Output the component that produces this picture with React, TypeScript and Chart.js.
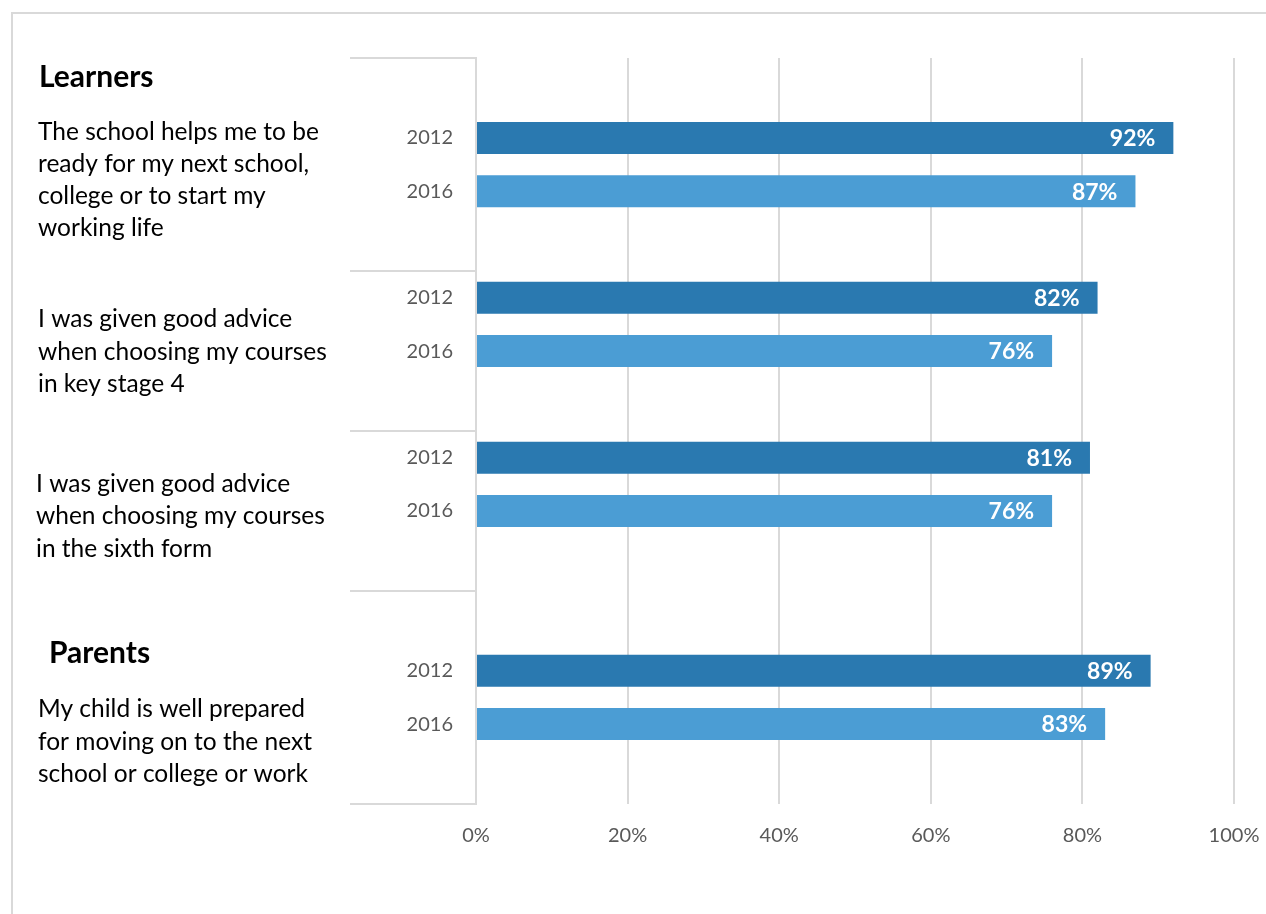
import React, { useEffect, useRef } from "react";
import { Chart, registerables } from "chart.js";

Chart.register(...registerables);

// ---- data ----
const rowLabels = ["", "2012", "2016", "", "2012", "2016", "", "2012", "2016", "", "", "2012", "2016", ""];
const rowQuestion = [-1, 0, 0, -1, 1, 1, -1, 2, 2, -1, -1, 3, 3, -1];
const values2012 = [92, 82, 81, 89];
const values2016 = [87, 76, 76, 83];
const xTickValues = [0, 20, 40, 60, 80, 100];
const groupBoundaries = [0, 4, 7, 10, 14];
const sectionHeadings = ["Learners", "Parents"];
const questionTexts = [
  ["The school helps me to be", "ready for my next school,", "college or to start my", "working life"],
  ["I was given good advice", "when choosing my courses", "in key stage 4"],
  ["I was given good advice", "when choosing my courses", "in the sixth form"],
  ["My child is well prepared", "for moving on to the next", "school or college or work"],
];

// ---- styling / layout ----
const FONT = "Lato";
const COLOR_2012 = "#2a79b0";
const COLOR_2016 = "#4b9dd4";
const GRID = "#d9d9d9";
const headingLayout = [
  { x: 39, y: 87 },
  { x: 49, y: 663 },
];
const blockLayout = [
  { x: 38, y: 139.5, lh: 32.3 },
  { x: 38, y: 327, lh: 32.5 },
  { x: 36, y: 491.5, lh: 32.5 },
  { x: 38, y: 717, lh: 32.5 },
];

const data2012 = rowLabels.map((l, i) => (l === "2012" ? values2012[rowQuestion[i]] : null));
const data2016 = rowLabels.map((l, i) => (l === "2016" ? values2016[rowQuestion[i]] : null));

const decorPlugin = {
  id: "decor",
  beforeDraw(chart: any) {
    const ctx = chart.ctx;
    ctx.save();
    ctx.fillStyle = "#ffffff";
    ctx.fillRect(0, 0, chart.width, chart.height);
    ctx.strokeStyle = GRID;
    ctx.lineWidth = 2;
    ctx.beginPath();
    ctx.moveTo(12, 13);
    ctx.lineTo(chart.width, 13);
    ctx.moveTo(12, 12);
    ctx.lineTo(12, chart.height);
    ctx.stroke();
    ctx.restore();
  },
  afterDatasetsDraw(chart: any) {
    const ctx = chart.ctx;
    ctx.save();
    ctx.fillStyle = "#ffffff";
    ctx.font = `bold 23px ${FONT}`;
    ctx.textAlign = "right";
    ctx.textBaseline = "middle";
    chart.data.datasets.forEach((ds: any, di: number) => {
      const meta = chart.getDatasetMeta(di);
      meta.data.forEach((el: any, i: number) => {
        const v = ds.data[i];
        if (v === null || v === undefined) return;
        ctx.fillText(`${v}%`, el.x - 18, el.y + 1);
      });
    });
    ctx.restore();
  },
  afterDraw(chart: any) {
    const ctx = chart.ctx;
    const yScale = chart.scales.y;
    const left = chart.chartArea.left;
    ctx.save();
    ctx.strokeStyle = GRID;
    ctx.lineWidth = 2;
    groupBoundaries.forEach((b) => {
      const y = Math.round(yScale.getPixelForValue(b - 0.5));
      ctx.beginPath();
      ctx.moveTo(left - 126, y);
      ctx.lineTo(left, y);
      ctx.stroke();
    });
    ctx.fillStyle = "#000000";
    ctx.textAlign = "left";
    ctx.textBaseline = "alphabetic";
    ctx.font = `bold 30px ${FONT}`;
    sectionHeadings.forEach((h, i) => {
      ctx.fillText(h, headingLayout[i].x, headingLayout[i].y);
    });
    ctx.font = `24.5px ${FONT}`;
    questionTexts.forEach((lines, qi) => {
      const L = blockLayout[qi];
      lines.forEach((line, li) => {
        ctx.fillText(line, L.x, L.y + li * L.lh);
      });
    });
    ctx.restore();
  },
};

export default function App() {
  const ref = useRef<HTMLCanvasElement | null>(null);
  useEffect(() => {
    if (!ref.current) return;
    const chart = new Chart(ref.current, {
      type: "bar",
      data: {
        labels: rowLabels,
        datasets: [
          {
            label: "2012",
            data: data2012,
            backgroundColor: COLOR_2012,
            barPercentage: 0.6,
            categoryPercentage: 1,
          },
          {
            label: "2016",
            data: data2016,
            backgroundColor: COLOR_2016,
            barPercentage: 0.6,
            categoryPercentage: 1,
          },
        ],
      },
      options: {
        indexAxis: "y",
        animation: false,
        responsive: false,
        devicePixelRatio: 1,
        layout: { padding: { left: 350, right: 32, top: 58, bottom: 50 } },
        plugins: { legend: { display: false }, tooltip: { enabled: false } },
        scales: {
          x: {
            type: "linear",
            min: 0,
            max: 100,
            stacked: true,
            afterBuildTicks: (s: any) => {
              s.ticks = xTickValues.map((v) => ({ value: v }));
            },
            afterFit: (s: any) => {
              s.height = 60;
              s.paddingLeft = 0;
              s.paddingRight = 0;
            },
            ticks: {
              callback: (v: any) => `${v}%`,
              color: "#595959",
              font: { family: FONT, size: 20 },
              padding: 20,
            },
            grid: { color: GRID, lineWidth: 2, drawTicks: false },
            border: { display: false },
          },
          y: {
            type: "category",
            stacked: true,
            afterFit: (s: any) => {
              s.width = 126;
            },
            ticks: {
              color: "#595959",
              font: { family: FONT, size: 20 },
              padding: 23,
              autoSkip: false,
            },
            grid: { display: false, drawTicks: false },
            border: { display: true, color: GRID, width: 2 },
          },
        },
      } as any,
      plugins: [decorPlugin],
    });
    return () => chart.destroy();
  }, []);
  return (
    <div style={{ position: "fixed", left: 0, top: 0, width: 1266, height: 914, background: "#fff" }}>
      <canvas ref={ref} width={1266} height={914} style={{ display: "block", width: 1266, height: 914 }} />
    </div>
  );
}
